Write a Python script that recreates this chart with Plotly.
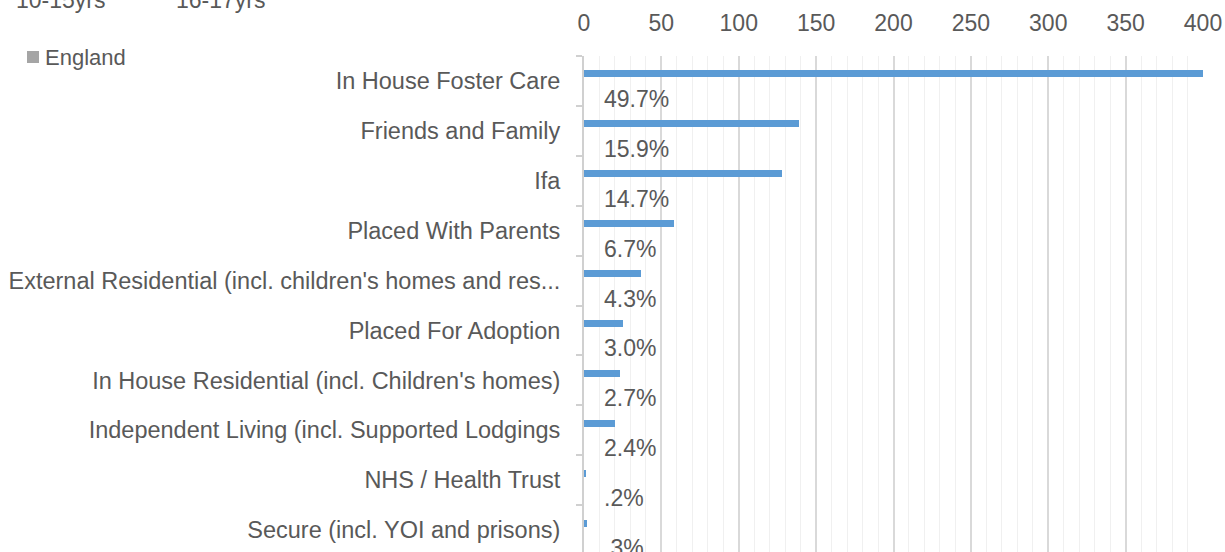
import plotly.graph_objects as go

categories = [
    "In House Foster Care",
    "Friends and Family",
    "Ifa",
    "Placed With Parents",
    "External Residential (incl. children's homes and res...",
    "Placed For Adoption",
    "In House Residential (incl. Children's homes)",
    "Independent Living (incl. Supported Lodgings",
    "NHS / Health Trust",
    "Secure (incl. YOI and prisons)",
]
counts = [432, 139, 128, 58, 37, 25, 23, 20, 1, 2]
pct_labels = ["49.7%", "15.9%", "14.7%", "6.7%", "4.3%", "3.0%", "2.7%", "2.4%", ".2%", ".3%"]
legend_top = ["10-15yrs", "16-17yrs"]
legend_main = "England"

TXT = "#595959"
FONT = "Liberation Sans"
L, R = 584, 1203
PW = R - L

def px(x):
    return (x - L) / PW

fig = go.Figure()
fig.add_trace(go.Bar(
    y=categories, x=counts, orientation="h",
    marker=dict(color="#5B9BD5", line=dict(width=0)),
    offset=-0.21, width=0.14, showlegend=False, hoverinfo="x+y",
))

for cat, lab in zip(categories, pct_labels):
    fig.add_annotation(x=0, y=cat, xref="x", yref="y", text=lab, showarrow=False,
                       xanchor="left", yanchor="middle", align="left",
                       xshift=18, yshift=-18,
                       font=dict(family=FONT, size=23, color=TXT))

# partially visible legend entries at the top
fig.add_annotation(x=px(14), y=1 + 56 / 496, xref="paper", yref="paper",
                   text=legend_top[0], showarrow=False, xanchor="left", yanchor="middle",
                   font=dict(family=FONT, size=23, color=TXT))
fig.add_annotation(x=px(174), y=1 + 56 / 496, xref="paper", yref="paper",
                   text=legend_top[1], showarrow=False, xanchor="left", yanchor="middle",
                   font=dict(family=FONT, size=23, color=TXT))
fig.add_annotation(x=px(43), y=1 - 1 / 496, xref="paper", yref="paper",
                   text=legend_main, showarrow=False, xanchor="left", yanchor="middle",
                   font=dict(family=FONT, size=22, color=TXT))
fig.add_shape(type="rect", xref="paper", yref="paper",
              x0=px(27), x1=px(39),
              y0=1 - (63 - 56) / 496, y1=1 + (56 - 51) / 496,
              fillcolor="#A5A5A5", line=dict(width=0))

fig.update_layout(
    width=1225, height=552,
    margin=dict(l=L, r=1225 - R, t=56, b=0, autoexpand=False),
    paper_bgcolor="white", plot_bgcolor="white",
    font=dict(family=FONT, color=TXT),
    bargap=0,
)
fig.update_xaxes(
    automargin=False,
    side="top", range=[0, 400], dtick=50, tick0=0,
    showgrid=True, gridcolor="#D9D9D9", gridwidth=1.5,
    minor=dict(dtick=10, showgrid=True, gridcolor="#F0F0F0", gridwidth=1),
    zeroline=False, showline=False, ticks="",
    tickfont=dict(family=FONT, size=23, color=TXT),
    ticklabelstandoff=19,
)
fig.update_yaxes(
    automargin=False,
    type="category", categoryorder="array", categoryarray=categories,
    range=[9.44, -0.5],
    showgrid=False, zeroline=False,
    showline=True, linecolor="#D0D0D0", linewidth=2,
    ticks="outside", tickson="boundaries", ticklen=6, tickcolor="#D0D0D0", tickwidth=2,
    tickfont=dict(family=FONT, size=23.5, color=TXT),
    ticklabelstandoff=17,
)

fig.write_html("out.html", config={"displayModeBar": False},
               post_script="document.body.style.margin='0';")
